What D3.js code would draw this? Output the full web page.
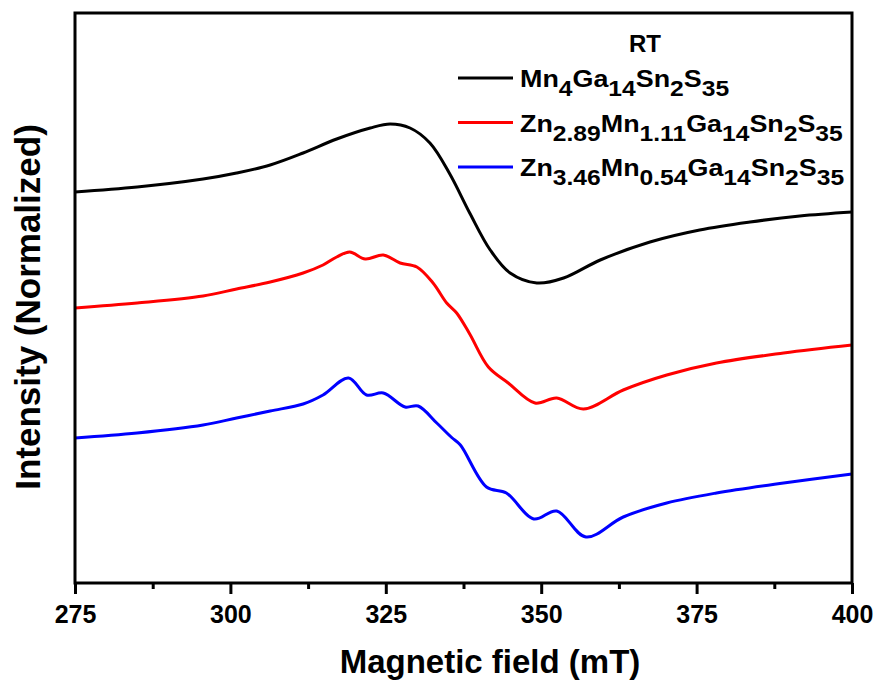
<!DOCTYPE html>
<html>
<head>
<meta charset="utf-8">
<script src="https://cdn.jsdelivr.net/npm/d3@7"></script>
<style>
  body { margin: 0; background: #fff; }
  text { font-family: "Liberation Sans", Arial, sans-serif; font-weight: bold; fill: #000; }
</style>
</head>
<body>
<div id="chart"></div>
<script>
// EPR spectra (field in mT, normalized intensity with offsets)
var fieldMn4 = [275, 285, 295.6, 301, 306.4, 311.7, 317.1, 322.5, 325.7, 328.9, 332.1, 335.3, 338.5, 341.8, 345, 349.3, 353.6, 359.5, 367.5, 375.5, 383.6, 391.6, 400];
var intMn4 = [3.91, 3.96, 4.04, 4.10, 4.18, 4.30, 4.44, 4.55, 4.59, 4.55, 4.40, 4.09, 3.70, 3.33, 3.10, 3.00, 3.05, 3.23, 3.41, 3.53, 3.61, 3.67, 3.71];

var fieldZn289 = [275, 285, 295.6, 301, 306.4, 311.7, 314.9, 317.1, 319.2, 321.7, 324.6, 327.3, 330, 332.6, 334.8, 336.4, 338.5, 341.5, 344.7, 349, 352.5, 356.8, 363.2, 370.2, 378.2, 389, 400];
var intZn289 = [2.75, 2.80, 2.87, 2.94, 3.01, 3.10, 3.18, 3.26, 3.31, 3.24, 3.28, 3.20, 3.16, 3.00, 2.80, 2.70, 2.49, 2.16, 2.00, 1.80, 1.85, 1.74, 1.93, 2.08, 2.20, 2.30, 2.38];

var fieldZn346 = [275, 285, 295.6, 301, 306.4, 311.7, 314.9, 319, 321.9, 324.6, 328.1, 330.2, 333.2, 335.6, 337, 341.2, 344.4, 348.8, 352.5, 357.2, 363.2, 370.2, 378.2, 389, 400];
var intZn346 = [1.45, 1.50, 1.58, 1.65, 1.72, 1.79, 1.88, 2.05, 1.88, 1.90, 1.76, 1.77, 1.60, 1.455, 1.38, 0.96, 0.90, 0.64, 0.72, 0.46, 0.66, 0.80, 0.90, 1.00, 1.09];

var seriesNames = [
    [["Mn", "4"], ["Ga", "14"], ["Sn", "2"], ["S", "35"]],
    [["Zn", "2.89"], ["Mn", "1.11"], ["Ga", "14"], ["Sn", "2"], ["S", "35"]],
    [["Zn", "3.46"], ["Mn", "0.54"], ["Ga", "14"], ["Sn", "2"], ["S", "35"]]
];
var seriesColors = ["#000000", "#ff0000", "#0000ff"];

var xTicks = [275, 300, 325, 350, 375, 400];
var xMinorTicks = [287.5, 312.5, 337.5, 362.5, 387.5];

var series = [
    { name: seriesNames[0], color: seriesColors[0], x: fieldMn4, y: intMn4 },
    { name: seriesNames[1], color: seriesColors[1], x: fieldZn289, y: intZn289 },
    { name: seriesNames[2], color: seriesColors[2], x: fieldZn346, y: intZn346 }
];

var W = 877, H = 681;
var margin = { top: 13, right: 25, bottom: 98, left: 75 };
var width = W - margin.left - margin.right;
var height = H - margin.top - margin.bottom;

var svg = d3.select("#chart").append("svg")
    .attr("width", W)
    .attr("height", H);

var g = svg.append("g")
    .attr("transform", "translate(" + margin.left + "," + margin.top + ")");

// scales
var xScale = d3.scaleLinear().domain([275, 400]).range([0, width]);
var yScale = d3.scaleLinear().domain([0, 5.7]).range([height, 0]);

// curves
var line = d3.line()
    .x(d => xScale(d[0]))
    .y(d => yScale(d[1]))
    .curve(d3.curveCatmullRom.alpha(0.5));

series.forEach(function(s) {
    g.append("path")
        .datum(s.x.map((v, i) => [v, s.y[i]]))
        .attr("fill", "none")
        .attr("stroke", s.color)
        .attr("stroke-width", 3)
        .attr("stroke-linejoin", "round")
        .attr("d", line);
});

// frame
g.append("rect")
    .attr("x", 0).attr("y", 0)
    .attr("width", width).attr("height", height)
    .attr("fill", "none")
    .attr("stroke", "#000")
    .attr("stroke-width", 3);

// bottom axis, major + minor ticks
var xAxis = g.append("g")
    .attr("transform", "translate(0," + height + ")")
    .call(d3.axisBottom(xScale).tickValues(xTicks).tickSize(11).tickPadding(11).tickFormat(d3.format("d")));
xAxis.select(".domain").remove();
xAxis.selectAll("line").attr("stroke-width", 3);
xAxis.selectAll("text")
    .style("font-family", '"Liberation Sans", Arial, sans-serif')
    .style("font-weight", "bold")
    .style("font-size", "25px");

var xMinor = g.append("g")
    .attr("transform", "translate(0," + height + ")")
    .call(d3.axisBottom(xScale).tickValues(xMinorTicks).tickSize(6).tickFormat(""));
xMinor.select(".domain").remove();
xMinor.selectAll("line").attr("stroke-width", 3);

// axis titles
svg.append("text")
    .attr("x", 490)
    .attr("y", 673)
    .attr("text-anchor", "middle")
    .style("font-size", "33px")
    .text("Magnetic field (mT)");

svg.append("text")
    .attr("transform", "translate(40," + 307 + ") rotate(-90)")
    .attr("text-anchor", "middle")
    .style("font-size", "35px")
    .text("Intensity (Normalized)");

// legend
var legend = svg.append("g");
legend.append("text")
    .attr("x", 645)
    .attr("y", 52)
    .attr("text-anchor", "middle")
    .style("font-size", "24px")
    .text("RT");

series.forEach(function(s, i) {
    var yy = 78 + i * 44.5;
    legend.append("line")
        .attr("x1", 458).attr("x2", 513)
        .attr("y1", yy).attr("y2", yy)
        .attr("stroke", s.color)
        .attr("stroke-width", 3);
    var t = legend.append("text")
        .attr("transform", "translate(520," + (yy + 9) + ") scale(1.12,1)")
        .style("font-size", "24px");
    // element then subscript, shifting the baseline down and back up
    s.name.forEach(function(p, j) {
        t.append("tspan").attr("dy", j === 0 ? 0 : -9).text(p[0]);
        t.append("tspan").attr("dy", 9).style("font-size", "22px").text(p[1]);
    });
});
</script>
</body>
</html>
